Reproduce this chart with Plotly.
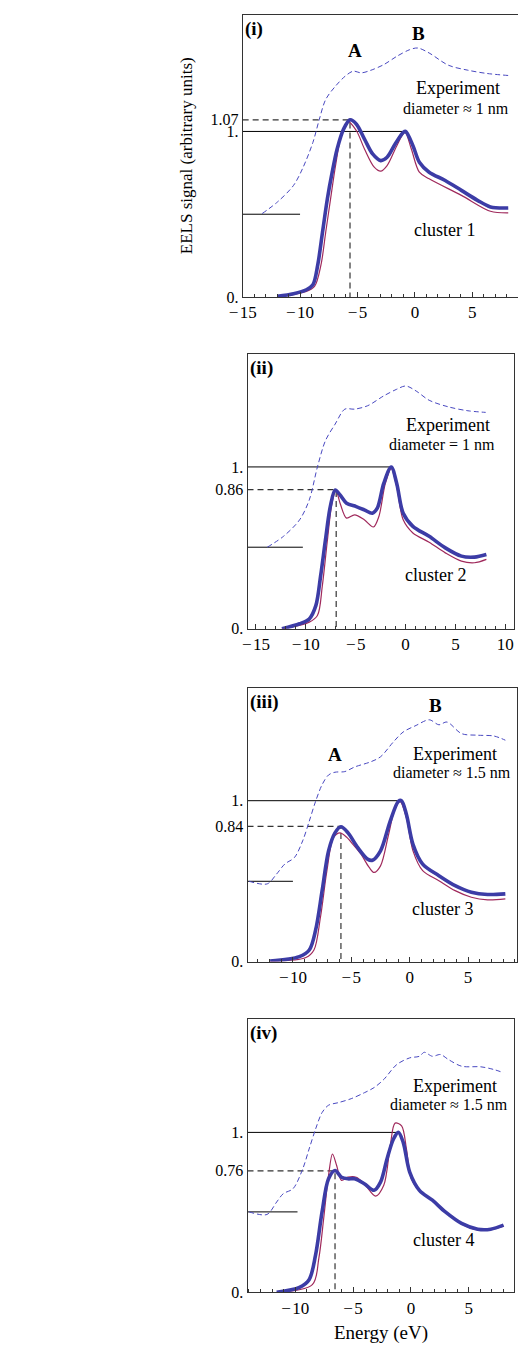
import plotly.graph_objects as go

# ---------------- DATA ----------------
# Panel (i) - cluster 1
p1_exp_E = [-13.3, -11.97, -10.57, -9.73, -8.88, -8.32, -7.76, -6.91, -6.07, -5.37, -4.67, -3.82, -2.7, -1.57, -0.45, 0.25, 1.24, 2.92, 4.61, 6.3, 8.13]
p1_exp_I = [0.504, 0.574, 0.674, 0.784, 0.934, 1.074, 1.194, 1.274, 1.334, 1.364, 1.354, 1.37, 1.404, 1.454, 1.494, 1.504, 1.474, 1.40, 1.37, 1.35, 1.338]
p1_a_E = [-11.97, -10.57, -9.45, -8.88, -8.46, -8.04, -7.62, -7.2, -6.77, -6.21, -5.65, -5.09, -4.39, -3.68, -2.98, -2.42, -1.72, -1.01, -0.8, -0.17, 0.39, 1.24, 2.64, 4.05, 5.45, 6.58, 8.13]
p1_a_I = [0.004, 0.02, 0.044, 0.074, 0.194, 0.394, 0.594, 0.754, 0.894, 1.014, 1.07, 1.044, 0.954, 0.864, 0.824, 0.844, 0.924, 0.994, 1.0, 0.914, 0.814, 0.754, 0.704, 0.644, 0.584, 0.544, 0.538]
p1_b_E = [-11.97, -9.45, -8.74, -8.18, -7.76, -7.34, -6.91, -6.35, -5.79, -5.09, -4.39, -3.54, -2.98, -2.42, -1.57, -0.87, -0.31, 0.39, 1.24, 4.05, 6.58, 8.13]
p1_b_I = [0.0, 0.034, 0.064, 0.194, 0.394, 0.594, 0.794, 0.994, 1.058, 1.004, 0.894, 0.784, 0.76, 0.794, 0.914, 0.994, 0.894, 0.754, 0.714, 0.614, 0.518, 0.508]

# Panel (ii) - cluster 2
p2_exp_E = [-13.87, -12.25, -10.63, -9.66, -8.84, -8.03, -7.06, -6.09, -5.11, -3.81, -2.19, -0.89, 0.02, 1.06, 2.36, 4.3, 6.25, 8.03]
p2_exp_I = [0.504, 0.571, 0.673, 0.796, 1.0, 1.163, 1.265, 1.357, 1.357, 1.378, 1.439, 1.48, 1.5, 1.469, 1.412, 1.371, 1.347, 1.337]
p2_a_E = [-12.4, -10.63, -9.66, -9.0, -8.52, -8.03, -7.55, -7.06, -6.57, -5.92, -4.95, -4.14, -3.33, -2.84, -2.19, -1.44, -0.89, -0.24, 0.73, 2.36, 3.98, 5.6, 6.9, 8.1]
p2_a_I = [0.0, 0.031, 0.061, 0.143, 0.327, 0.551, 0.755, 0.857, 0.827, 0.776, 0.755, 0.735, 0.714, 0.745, 0.898, 1.0, 0.898, 0.714, 0.633, 0.571, 0.5, 0.449, 0.443, 0.459]
p2_b_E = [-12.4, -9.66, -8.84, -8.35, -7.87, -7.38, -6.99, -6.57, -5.92, -5.11, -4.14, -3.23, -2.68, -2.03, -1.44, -0.89, -0.24, 0.73, 2.36, 3.98, 5.6, 6.9, 8.1]
p2_b_I = [0.0, 0.041, 0.082, 0.265, 0.531, 0.776, 0.857, 0.776, 0.684, 0.704, 0.673, 0.629, 0.694, 0.898, 0.99, 0.878, 0.673, 0.592, 0.535, 0.469, 0.418, 0.408, 0.429]

# Panel (iii) - cluster 3
p3_exp_E = [-13.75, -12.2, -11.4, -10.7, -9.87, -9.17, -8.6, -8.06, -7.5, -6.95, -6.4, -5.56, -4.7, -3.33, -2.5, -1.39, -0.56, 0.55, 1.67, 2.5, 3.19, 4.44, 5.83, 7.22, 8.19]
p3_exp_I = [0.499, 0.483, 0.544, 0.606, 0.647, 0.75, 0.873, 0.996, 1.1, 1.16, 1.177, 1.181, 1.21, 1.242, 1.273, 1.366, 1.427, 1.468, 1.503, 1.472, 1.489, 1.417, 1.407, 1.402, 1.376]
p3_a_E = [-11.95, -9.45, -8.6, -8.06, -7.5, -6.95, -6.4, -5.89, -5.28, -4.45, -3.61, -3.19, -2.5, -1.67, -0.97, -0.7, -0.28, 0.28, 1.11, 2.5, 3.89, 5.28, 6.67, 8.19]
p3_a_I = [0.004, 0.031, 0.072, 0.195, 0.441, 0.688, 0.8, 0.838, 0.8, 0.708, 0.637, 0.63, 0.688, 0.873, 0.996, 1.0, 0.914, 0.729, 0.606, 0.534, 0.472, 0.431, 0.417, 0.421]
p3_b_E = [-11.95, -8.89, -8.2, -7.64, -7.09, -6.53, -5.97, -5.42, -4.86, -4.17, -3.47, -3.05, -2.5, -1.81, -1.25, -0.83, -0.28, 0.28, 1.11, 2.5, 3.89, 5.28, 6.67, 8.19]
p3_b_I = [0.0, 0.025, 0.072, 0.277, 0.565, 0.77, 0.8, 0.774, 0.729, 0.667, 0.585, 0.554, 0.595, 0.79, 0.955, 0.996, 0.893, 0.688, 0.565, 0.503, 0.441, 0.4, 0.384, 0.39]

# Panel (iv) - cluster 4
p4_exp_E = [-13.98, -12.44, -11.6, -11.03, -10.19, -9.35, -8.8, -8.24, -7.68, -7.12, -6.28, -5.16, -4.03, -3.19, -2.35, -1.23, -0.11, 0.73, 1.15, 1.85, 2.55, 3.25, 4.37, 6.05, 7.17, 8.0]
p4_exp_I = [0.503, 0.487, 0.565, 0.617, 0.648, 0.772, 0.896, 1.021, 1.124, 1.17, 1.186, 1.211, 1.248, 1.28, 1.331, 1.424, 1.466, 1.476, 1.501, 1.476, 1.487, 1.455, 1.414, 1.41, 1.393, 1.373]
p4_a_E = [-11.6, -9.63, -8.8, -8.24, -7.68, -7.12, -6.56, -6.0, -5.44, -4.87, -4.03, -3.19, -2.63, -2.07, -1.51, -1.09, -0.67, -0.11, 0.73, 1.85, 2.97, 4.37, 5.77, 6.89, 8.0]
p4_a_I = [0.0, 0.031, 0.079, 0.234, 0.503, 0.71, 0.762, 0.72, 0.71, 0.71, 0.679, 0.638, 0.689, 0.834, 0.959, 1.0, 0.938, 0.752, 0.638, 0.576, 0.503, 0.431, 0.395, 0.395, 0.42]
p4_b_E = [-11.6, -8.52, -7.96, -7.54, -7.12, -6.78, -6.42, -6.0, -5.44, -4.73, -4.03, -3.05, -2.35, -1.79, -1.37, -0.81, -0.39, 0.03, 0.73, 1.85, 2.97, 4.37, 5.77, 6.89, 8.0]
p4_b_I = [0.0, 0.048, 0.213, 0.462, 0.731, 0.865, 0.793, 0.7, 0.72, 0.72, 0.679, 0.602, 0.669, 0.917, 1.058, 1.041, 0.896, 0.71, 0.638, 0.576, 0.503, 0.427, 0.39, 0.393, 0.414]

# Reference markers (peak A energy / height, peak B energy, experiment baseline)
peakA_E = [-5.65, -6.96, -5.89, -6.56]
peakA_I = [1.07, 0.86, 0.84, 0.76]
peakA_lbl = ["1.07", "0.86", "0.84", "0.76"]
peakB_E = [-0.85, -1.44, -0.8, -1.1]
base_I = [0.50, 0.504, 0.499, 0.503]
base_end_E = [-10.0, -10.3, -10.0, -9.8]

# x tick labels
x_tickvals = [-15, -10, -5, 0, 5, 10]
x_ticktext = ["\u2212\u200a15", "\u2212\u200a10", "\u2212\u200a5", "0", "5", "10"]

panel_labels = ["(i)", "(ii)", "(iii)", "(iv)"]
diam_text = ["diameter \u2248 1 nm", "diameter = 1 nm", "diameter \u2248 1.5 nm", "diameter \u2248 1.5 nm"]
cluster_text = ["cluster 1", "cluster 2", "cluster 3", "cluster 4"]

exp_E = [p1_exp_E, p2_exp_E, p3_exp_E, p4_exp_E]
exp_I = [p1_exp_I, p2_exp_I, p3_exp_I, p4_exp_I]
a_E = [p1_a_E, p2_a_E, p3_a_E, p4_a_E]
a_I = [p1_a_I, p2_a_I, p3_a_I, p4_a_I]
b_E = [p1_b_E, p2_b_E, p3_b_E, p4_b_E]
b_I = [p1_b_I, p2_b_I, p3_b_I, p4_b_I]

# ---------------- LAYOUT GEOMETRY (pixels) ----------------
W, H = 518, 1353
boxes = [  # x0, x1, ytop, ybottom
    (235, 518, 15, 299),
    (240, 514, 356, 633),
    (240, 517, 692.7, 968),
    (240, 514, 1026, 1301),
]
xranges = [[-15.0, 8.98], [-15.85, 10.88], [-13.89, 9.19], [-14.12, 8.91]]
yranges = [[0, 1.704], [0, 1.70], [0, 1.70], [0, 1.708]]
# text positions (data coords)
exp_pos = [(3.77, 1.26), (4.3, 1.262), (3.89, 1.29), (3.81, 1.291)]
diam_pos = [(3.6, 1.14), (3.65, 1.139), (3.6, 1.173), (3.25, 1.176)]
clus_pos = [(2.6, 0.404), (3.0, 0.33), (2.78, 0.329), (2.83, 0.327)]
A_pos = {0: (-5.2, 1.49), 2: (-6.39, 1.29)}
B_pos = {0: (0.3, 1.59), 2: (2.22, 1.59)}

FONT = "Liberation Serif"
EXP_COL = "#4848c0"
THICK_COL = "#3c3ca6"
THIN_COL = "#a02a5c"
AX_COL = "#333333"

fig = go.Figure()
layout = dict(
    width=W, height=H, margin=dict(l=0, r=0, t=0, b=0),
    paper_bgcolor="white", plot_bgcolor="white", showlegend=False,
    font=dict(family=FONT, size=16, color="black"),
)
annotations = []

for i in range(4):
    x0, x1, yt, yb = boxes[i]
    sx = "" if i == 0 else str(i + 1)
    xa, ya = "x" + sx, "y" + sx
    xr, yr = xranges[i], yranges[i]

    # reference lines
    fig.add_trace(go.Scatter(x=[xr[0], base_end_E[i]], y=[base_I[i], base_I[i]], mode="lines",
                             line=dict(color="black", width=1), xaxis=xa, yaxis=ya, hoverinfo="skip"))
    fig.add_trace(go.Scatter(x=[xr[0], peakB_E[i]], y=[1.0, 1.0], mode="lines",
                             line=dict(color="black", width=1), xaxis=xa, yaxis=ya, hoverinfo="skip"))
    fig.add_trace(go.Scatter(x=[xr[0], peakA_E[i], peakA_E[i]], y=[peakA_I[i], peakA_I[i], 0], mode="lines",
                             line=dict(color="#333333", width=1.2, dash="6px,4px"), xaxis=xa, yaxis=ya, hoverinfo="skip"))

    # experiment
    fig.add_trace(go.Scatter(x=exp_E[i], y=exp_I[i], mode="lines",
                             line=dict(color=EXP_COL, width=1, dash="5px,3px", shape="spline", smoothing=0.9),
                             xaxis=xa, yaxis=ya))
    # thin theory
    fig.add_trace(go.Scatter(x=b_E[i], y=b_I[i], mode="lines",
                             line=dict(color=THIN_COL, width=1.2, shape="spline", smoothing=0.9),
                             xaxis=xa, yaxis=ya))
    # thick theory
    fig.add_trace(go.Scatter(x=a_E[i], y=a_I[i], mode="lines",
                             line=dict(color=THICK_COL, width=3.6, shape="spline", smoothing=0.9),
                             xaxis=xa, yaxis=ya))

    layout["xaxis" + sx] = dict(
        domain=[x0 / W, x1 / W], range=xr, anchor=ya,
        showline=True, linecolor=AX_COL, linewidth=1, mirror=True,
        ticks="inside", ticklen=5, tickcolor=AX_COL,
        tickmode="array", tickvals=x_tickvals, ticktext=x_ticktext,
        minor=dict(ticks="inside", ticklen=3, tickmode="linear", tick0=0, dtick=1, tickcolor=AX_COL),
        showgrid=False, zeroline=False, tickfont=dict(family=FONT, size=17),
    )
    layout["yaxis" + sx] = dict(
        domain=[1 - yb / H, 1 - yt / H], range=yr, anchor=xa,
        showline=True, linecolor=AX_COL, linewidth=1, mirror=(i != 0),
        ticks="", tickvals=[0, 1, peakA_I[i]], ticktext=["0.", "1.", peakA_lbl[i]],
        showgrid=False, zeroline=False, tickfont=dict(family=FONT, size=16),
    )

    # panel label
    annotations.append(dict(text="<b>%s</b>" % panel_labels[i], xref="paper", yref="paper",
                            x=(x0 + 0) / W, y=1 - (yt + 1) / H, xanchor="left", yanchor="top",
                            showarrow=False, font=dict(family=FONT, size=19)))
    annotations.append(dict(text="Experiment", xref=xa, yref=ya, x=exp_pos[i][0], y=exp_pos[i][1],
                            xanchor="center", yanchor="middle",
                            showarrow=False, font=dict(family=FONT, size=18)))
    annotations.append(dict(text=diam_text[i], xref=xa, yref=ya, x=diam_pos[i][0], y=diam_pos[i][1],
                            xanchor="center", yanchor="middle",
                            showarrow=False, font=dict(family=FONT, size=16)))
    annotations.append(dict(text=cluster_text[i], xref=xa, yref=ya, x=clus_pos[i][0], y=clus_pos[i][1],
                            xanchor="center", yanchor="middle",
                            showarrow=False, font=dict(family=FONT, size=18)))
    if i in A_pos:
        annotations.append(dict(text="<b>A</b>", xref=xa, yref=ya, x=A_pos[i][0], y=A_pos[i][1],
                                xanchor="center", yanchor="middle",
                                showarrow=False, font=dict(family=FONT, size=19)))
        annotations.append(dict(text="<b>B</b>", xref=xa, yref=ya, x=B_pos[i][0], y=B_pos[i][1],
                                xanchor="center", yanchor="middle",
                                showarrow=False, font=dict(family=FONT, size=19)))

annotations.append(dict(text="EELS signal (arbitrary units)", xref="paper", yref="paper",
                        x=178 / W, y=1 - 157 / H, textangle=-90, showarrow=False,
                        xanchor="center", yanchor="middle",
                        font=dict(family=FONT, size=17)))
annotations.append(dict(text="Energy (eV)", xref="paper", yref="paper",
                        x=376.7 / W, y=1 - 1342 / H, showarrow=False,
                        xanchor="center", yanchor="middle",
                        font=dict(family=FONT, size=19)))

layout["annotations"] = annotations
fig.update_layout(**layout)
fig.write_html("out.html")
